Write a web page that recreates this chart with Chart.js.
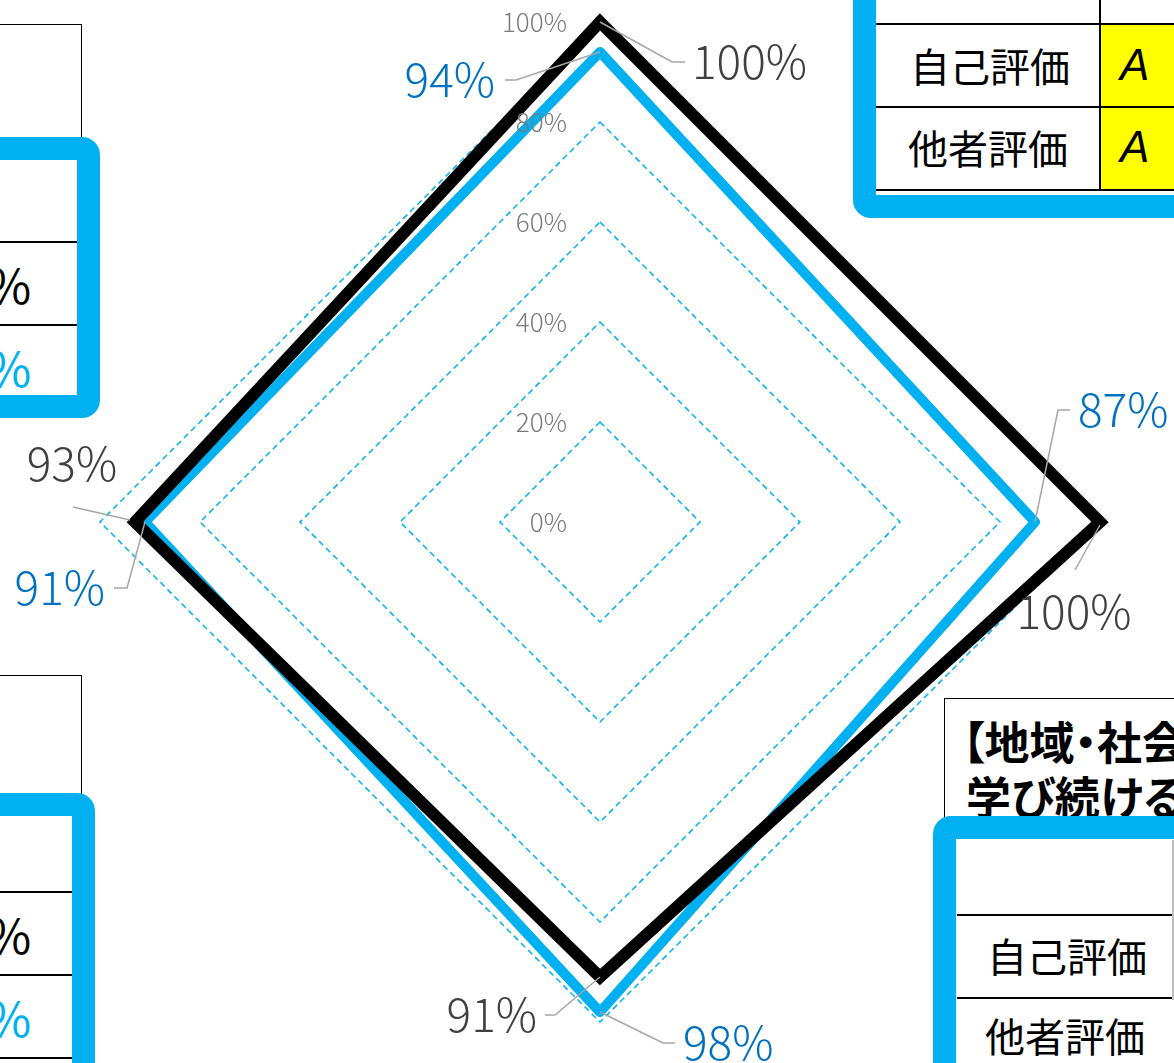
<!DOCTYPE html>
<html>
<head>
<meta charset="utf-8">
<script src="https://cdn.jsdelivr.net/npm/chart.js@4.4.1/dist/chart.umd.min.js"></script>
<style>
html, body { margin: 0; padding: 0; background: #fff; }
body { width: 1174px; height: 1063px; overflow: hidden; position: relative; font-family: "Noto Sans CJK JP", sans-serif; }
#myChart { position: absolute; left: 0; top: 0; }
.box { position: absolute; box-sizing: border-box; background: #fff; }
.blk { border: 1.5px solid #000; }
.blue { border: 23px solid #00B0F0; border-radius: 18px; }
.hl { position: absolute; height: 0; border-top: 2px solid #000; }
.vl { position: absolute; width: 0; border-left: 2px solid #000; }
.t { position: absolute; font-size: 40px; line-height: 1; white-space: nowrap; transform: translateY(-50%); }
.pc { font-size: 48px; }
.ttl { font-weight: bold; font-size: 45px; font-feature-settings: "palt"; }
.yel { position: absolute; background: #FFFF00; }
.a { position: absolute; font-family: "Liberation Sans", sans-serif; font-style: italic; font-size: 44px; line-height: 1; transform: translateY(-50%); }
</style>
</head>
<body>
<canvas id="myChart" width="1174" height="1063"></canvas>

<!-- top left table -->
<div class="box blk" style="left:-20px; top:24px; width:102px; height:140px;"></div>
<div class="box blue" style="left:-40px; top:137px; width:140px; height:281px;"></div>
<div class="hl" style="left:0; width:77px; top:241px;"></div>
<div class="hl" style="left:0; width:77px; top:324px;"></div>
<div class="t pc" style="left:-13px; top:283px; color:#000;">%</div>
<div class="t pc" style="left:-13px; top:366px; color:#00B0F0;">%</div>

<!-- bottom left table -->
<div class="box blk" style="left:-20px; top:675px; width:102px; height:140px;"></div>
<div class="box blue" style="left:-40px; top:793px; width:135px; height:320px;"></div>
<div class="hl" style="left:0; width:72px; top:891px;"></div>
<div class="hl" style="left:0; width:72px; top:974px;"></div>
<div class="hl" style="left:0; width:72px; top:1057px;"></div>
<div class="t pc" style="left:-13px; top:933px; color:#000;">%</div>
<div class="t pc" style="left:-13px; top:1016px; color:#00B0F0;">%</div>

<!-- top right table -->
<div class="box blue" style="left:853px; top:-40px; width:400px; height:258px;"></div>
<div class="yel" style="left:1101px; top:25px; width:80px; height:82px;"></div>
<div class="yel" style="left:1101px; top:108px; width:80px; height:82px;"></div>
<div class="hl" style="left:876px; width:300px; top:23px;"></div>
<div class="hl" style="left:876px; width:300px; top:106px;"></div>
<div class="hl" style="left:876px; width:300px; top:189px;"></div>
<div class="vl" style="left:1099px; top:0; height:191px;"></div>
<div class="t" style="left:910px; top:65px;">自己評価</div>
<div class="t" style="left:908px; top:147px;">他者評価</div>
<div class="a" style="left:1120px; top:65px;">A</div>
<div class="a" style="left:1120px; top:147px;">A</div>

<!-- bottom right table -->
<div class="box blk" style="left:944px; top:698px; width:260px; height:140px;"></div>
<div class="t ttl" style="left:962px; top:740px;">【地域・社会</div>
<div class="t ttl" style="left:966px; top:795px;">学び続ける</div>
<div class="box blue" style="left:933px; top:816px; width:300px; height:300px;"></div>
<div class="hl" style="left:957px; width:220px; top:914px;"></div>
<div class="hl" style="left:957px; width:220px; top:997px;"></div>
<div class="vl" style="left:1172px; top:840px; height:160px; border-left-color:#bfbfbf;"></div>
<div class="t" style="left:987px; top:955px;">自己評価</div>
<div class="t" style="left:985px; top:1035px;">他者評価</div>

<script>
// radar data
const categories = ['観点1', '観点2', '観点3', '観点4'];
const selfScores = [100, 100, 91, 93];   // 自己評価 (black)
const peerScores = [94, 87, 98, 91];     // 他者評価 (blue)
const tickValues = [0, 20, 40, 60, 80, 100];

// leader line + label offsets, relative to each point
const selfLabelPos = [
  { line: [[72, 40], [85, 40]], text: [92, 40], align: 'left' },
  { start: [0, 3], line: [[-25, 48]], text: [-26, 90], align: 'center' },
  { line: [[-45, 38], [-55, 38]], text: [-63, 38], align: 'right' },
  { start: [-5, -2], line: [[-62, -15]], text: [-63, -58], align: 'center' }
];
const peerLabelPos = [
  { line: [[-84, 28], [-95, 28]], text: [-105, 28], align: 'right' },
  { line: [[23, -112], [35, -112]], text: [43, -112], align: 'left' },
  { line: [[63, 31], [75, 31]], text: [83, 31], align: 'left' },
  { line: [[-18, 66], [-31, 66]], text: [-40, 66], align: 'right' }
];

const valueLabels = {
  id: 'valueLabels',
  afterDatasetsDraw(chart) {
    const ctx = chart.ctx;
    const r = chart.scales.r;

    // tick labels on the vertical axis
    ctx.save();
    ctx.font = '300 26px "Noto Sans CJK JP"';
    ctx.fillStyle = '#7a7a7a';
    ctx.textAlign = 'right';
    ctx.textBaseline = 'middle';
    tickValues.forEach(function(v) {
      const d = r.getDistanceFromCenterForValue(v);
      ctx.fillText(v + '%', r.xCenter - 33, r.yCenter - d);
    });

    // data labels with leader lines
    const layouts = [selfLabelPos, peerLabelPos];
    const colors = ['#404040', '#0070C0'];
    chart.data.datasets.forEach(function(ds, di) {
      const meta = chart.getDatasetMeta(di);
      meta.data.forEach(function(pt, i) {
        const lay = layouts[di][i];
        const s = lay.start || [0, 0];
        ctx.strokeStyle = '#A6A6A6';
        ctx.lineWidth = 1.5;
        ctx.beginPath();
        ctx.moveTo(pt.x + s[0], pt.y + s[1]);
        lay.line.forEach(function(p) { ctx.lineTo(pt.x + p[0], pt.y + p[1]); });
        ctx.stroke();
        ctx.font = '300 46px "Noto Sans CJK JP"';
        ctx.fillStyle = colors[di];
        ctx.textAlign = lay.align;
        ctx.fillText(ds.data[i] + '%', pt.x + lay.text[0], pt.y + lay.text[1]);
      });
    });
    ctx.restore();
  }
};

const ctx = document.getElementById('myChart').getContext('2d');
const myChart = new Chart(ctx, {
  type: 'radar',
  data: {
    labels: categories,
    datasets: [{
      label: '自己評価',
      data: selfScores,
      borderColor: '#000000',
      borderWidth: 12,
      borderJoinStyle: 'miter',
      fill: false,
      pointRadius: 0,
      clip: false
    }, {
      label: '他者評価',
      data: peerScores,
      borderColor: '#00B0F0',
      borderWidth: 10,
      borderJoinStyle: 'round',
      fill: false,
      pointRadius: 0,
      clip: false
    }]
  },
  options: {
    responsive: false,
    animation: false,
    layout: { padding: { left: 100, right: 74, top: 22, bottom: 41 } },
    plugins: {
      legend: { display: false },
      tooltip: { enabled: false }
    },
    scales: {
      r: {
        min: 0,
        max: 100,
        ticks: { stepSize: 20, display: false },
        pointLabels: { display: false },
        angleLines: { display: false },
        grid: {
          color: '#00B0F0',
          lineWidth: 1.5
        },
        border: { dash: [6, 4] }
      }
    }
  },
  plugins: [valueLabels]
});
</script>
</body>
</html>
